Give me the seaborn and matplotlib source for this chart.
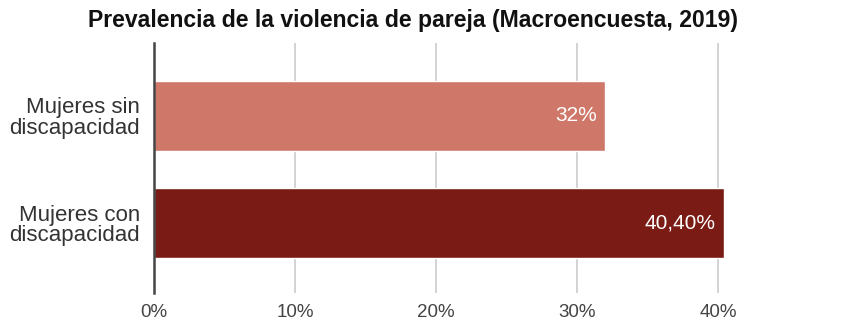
import pandas as pd
import matplotlib.pyplot as plt
import seaborn as sns

categories = ["Mujeres sin\ndiscapacidad", "Mujeres con\ndiscapacidad"]
values = [32.0, 40.4]
value_labels = ["32%", "40,40%"]
tick_vals = [0, 10, 20, 30, 40]
tick_labels = ["0%", "10%", "20%", "30%", "40%"]
colors = ["#CF786A", "#7A1C15"]

df = pd.DataFrame({"grupo": categories, "valor": values})

sns.set_style("white")
plt.rcParams["font.family"] = ["Liberation Sans", "DejaVu Sans"]

fig = plt.figure(figsize=(8.54, 3.2), dpi=100)
ax = fig.add_axes([154 / 854, 1 - 293 / 320, (732 - 154) / 854, 250 / 320])

sns.barplot(data=df, x="valor", y="grupo", hue="grupo", palette=colors,
            saturation=1, width=0.65, legend=False, ax=ax, zorder=3)

ax.set_xlim(0, 41)
ax.set_ylim(1.654, -0.682)
ax.set_xticks(tick_vals)
ax.set_xticklabels(tick_labels)
ax.grid(axis="x", color="#cccccc", linewidth=1.2, zorder=0)
ax.grid(axis="y", visible=False)
for s in ["top", "right", "bottom"]:
    ax.spines[s].set_visible(False)
ax.spines["left"].set_color("#444444")
ax.spines["left"].set_linewidth(1.8)
ax.spines["left"].set_zorder(4)
ax.tick_params(axis="x", length=0, pad=8, labelsize=13.5, labelcolor="#444444")
ax.tick_params(axis="y", length=0, pad=10, labelsize=16, labelcolor="#333333")
for t in ax.get_yticklabels():
    t.set_horizontalalignment("right")
    t.set_linespacing(0.95)
ax.set_xlabel("")
ax.set_ylabel("")

for i, (v, lab) in enumerate(zip(values, value_labels)):
    ax.text(v - 0.6, i, lab, ha="right", va="center", color="white",
            fontsize=15, zorder=5)

fig.text(413 / 854, 1 - 20 / 320, "Prevalencia de la violencia de pareja (Macroencuesta, 2019)",
         ha="center", va="center", fontsize=16.6, fontweight="bold", color="#111111")

fig.savefig("out.png", dpi=100)
